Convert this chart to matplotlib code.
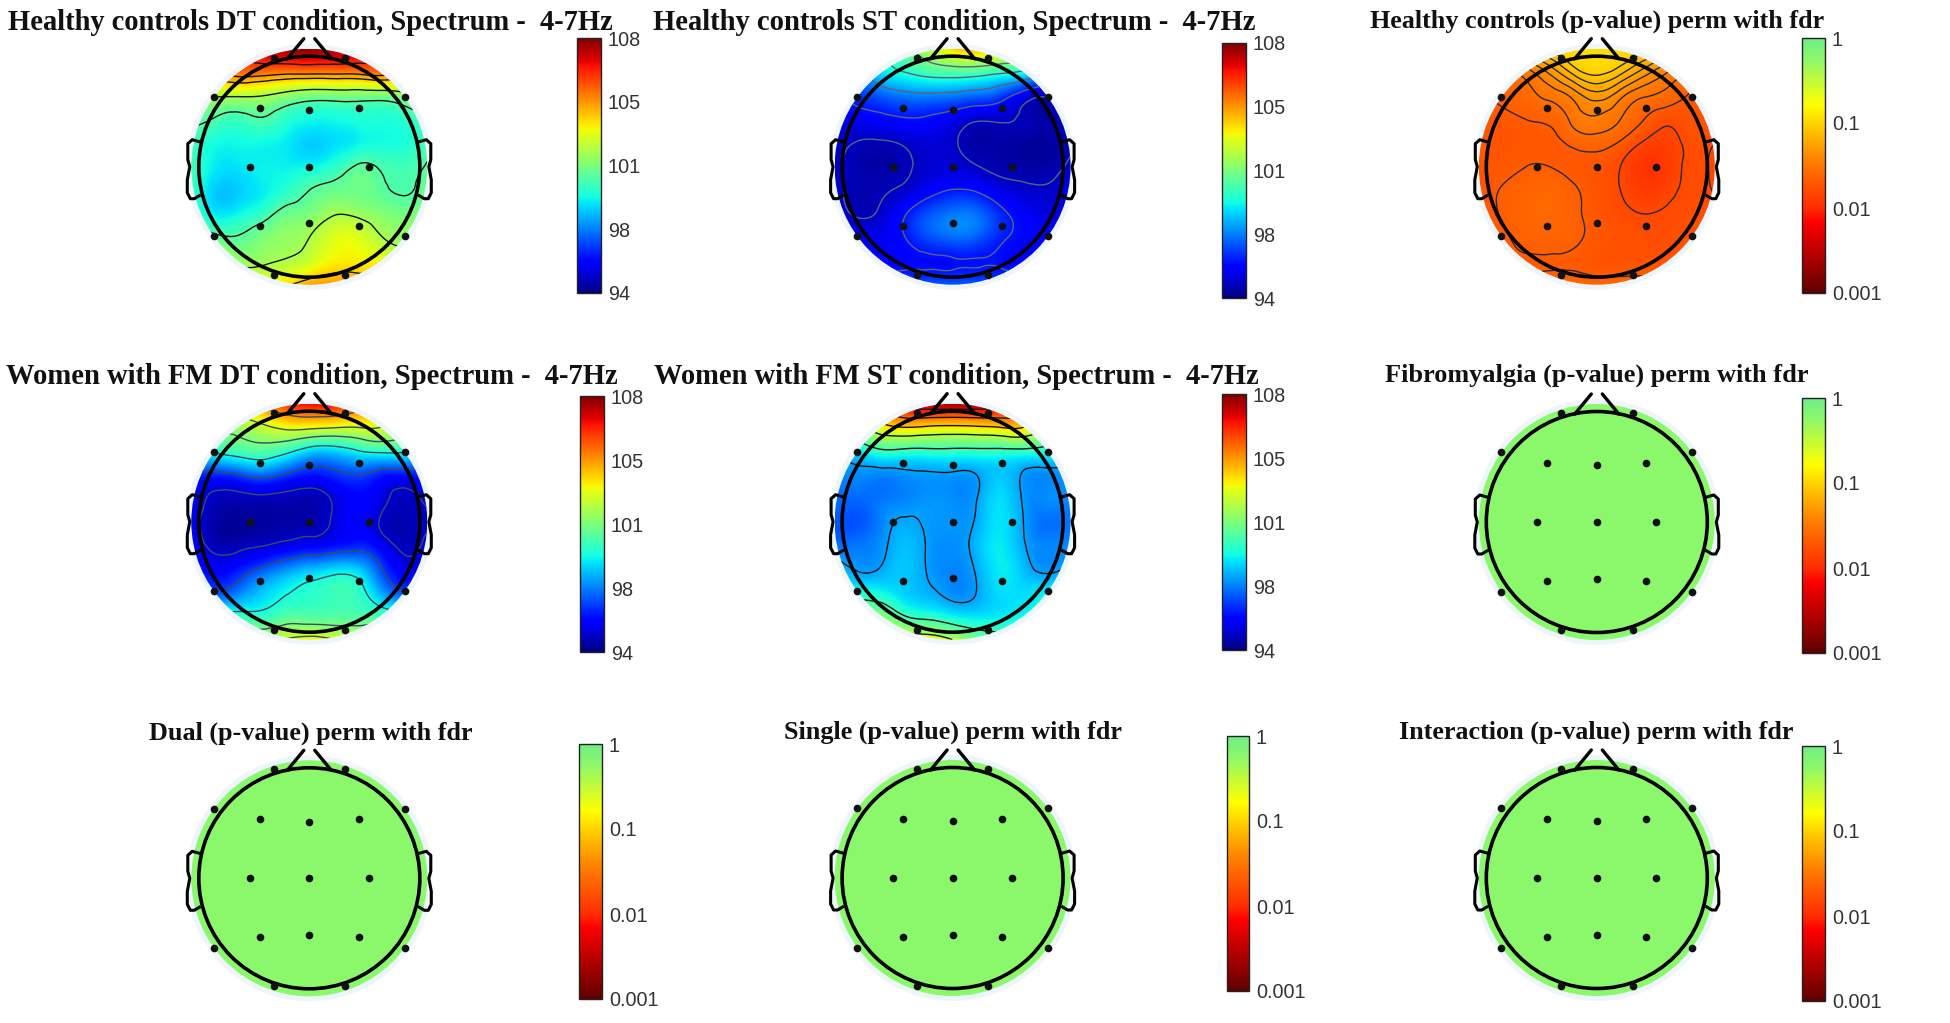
import numpy as np
import matplotlib
matplotlib.use("Agg")
import matplotlib.pyplot as plt
import matplotlib.tri as mtri
from matplotlib.cm import ScalarMappable
from matplotlib.colors import LinearSegmentedColormap, Normalize
from matplotlib.patches import Circle

W, H = 1950, 1023

titles = ["Healthy controls DT condition, Spectrum -  4-7Hz",
          "Healthy controls ST condition, Spectrum -  4-7Hz",
          "Healthy controls (p-value) perm with fdr",
          "Women with FM DT condition, Spectrum -  4-7Hz",
          "Women with FM ST condition, Spectrum -  4-7Hz",
          "Fibromyalgia (p-value) perm with fdr",
          "Dual (p-value) perm with fdr",
          "Single (p-value) perm with fdr",
          "Interaction (p-value) perm with fdr"]

power_ticks = [94, 97.5, 101, 104.5, 108]
power_labels = ["94", "98", "101", "105", "108"]
p_ticks = [-3, -2, -1, 0]
p_labels = ["0.001", "0.01", "0.1", "1"]

# electrodes, offset from head centre in pixels
elec_x = [-49.5, 0, 49.5, -59.5, 0, 59.5, -49.5, 0, 49.5, -95.5, 95.5, -95.5, 95.5, -35.8, 35.8, -35.8, 35.8]
elec_y = [-59, -56.7, -59, 0, 0, 0, 59, 56.7, 59, -69.7, -69.7, 69.7, 69.7, -109, -109, 108, 108]

# scalp values on an 11x11 grid, top row first
hc_dt = [
    [104, 105, 106, 107, 107.5, 107.8, 107.5, 107, 106, 105, 104],
    [104, 104.5, 105, 105, 104.8, 104.8, 104.8, 104.8, 105, 104.5, 104],
    [101.5, 101.9, 101.9, 101.8, 101.3, 100.9, 100.9, 100.9, 100.9, 101.3, 101.8],
    [100.5, 100.2, 99.9, 100.2, 99.6, 99.2, 99.2, 99.4, 99.4, 99.6, 100.2],
    [100, 99.3, 99.2, 99.2, 99.0, 98.6, 98.8, 99.1, 99.3, 99.4, 100],
    [100, 99.0, 98.9, 99.1, 99.1, 99.2, 99.6, 100.4, 100.2, 100.0, 100.4],
    [100, 98.6, 98.6, 99.0, 99.6, 100.3, 100.7, 100.8, 100.5, 100.2, 100.8],
    [100.5, 99.0, 99.2, 99.8, 100.7, 101.0, 101.7, 101.6, 101.2, 100.9, 101.2],
    [101.5, 100.6, 100.4, 101, 101.4, 101.8, 102.6, 102.7, 101.9, 101.5, 102],
    [103, 102.5, 101.5, 101.6, 101.9, 102.4, 103.1, 103.2, 103, 102.5, 103],
    [104, 103.8, 103.5, 103.2, 103.5, 104.3, 104.5, 104.5, 104.2, 104, 104]]
hc_st = [
    [97, 98, 99, 100.5, 102, 103.5, 104, 103.5, 102, 100, 98],
    [96, 97.2, 98.8, 99.5, 100, 100.2, 100.1, 99.7, 99.2, 97.5, 96],
    [95.5, 96.4, 97, 97.4, 97.5, 97.4, 97.1, 96.6, 95.4, 94.9, 95.3],
    [95.2, 95.5, 95.7, 95.9, 95.8, 95.4, 94.9, 94.9, 94.7, 94.5, 95],
    [95, 94.75, 94.7, 94.9, 95.1, 94.9, 94.5, 94.5, 94.4, 94.4, 94.7],
    [94.9, 94.6, 94.5, 94.7, 95, 95.1, 94.85, 94.6, 94.5, 94.5, 95],
    [95, 94.6, 94.7, 95, 95.6, 96.05, 95.9, 95.3, 95, 94.9, 95.3],
    [95.2, 94.7, 95, 95.95, 96.9, 97.4, 97.3, 96.3, 95.6, 95.2, 95.4],
    [95.6, 95.4, 95.4, 96, 96.8, 97.2, 97, 96.2, 95.8, 95.5, 95.7],
    [96, 95.7, 95.7, 95.8, 95.85, 95.9, 95.95, 95.9, 95.7, 95.6, 95.8],
    [96.5, 96.5, 96.5, 96.7, 97, 97, 97, 96.7, 96.5, 96.3, 96.2]]
fm_dt = [
    [102, 103, 104, 105, 106, 106.5, 106.5, 105.5, 104, 103, 102],
    [100.5, 101, 101.5, 102.2, 102.8, 102.8, 102.6, 102.5, 102.5, 101.5, 100.5],
    [98.8, 99.5, 100, 100.3, 99.7, 98.7, 98.6, 99.2, 99.6, 99.5, 98.8],
    [96.5, 96.3, 96.7, 97.2, 96.6, 96.0, 96.3, 96.7, 96.2, 96.0, 96.5],
    [95.6, 94.8, 94.7, 94.8, 94.7, 94.6, 95.1, 95.7, 95.3, 94.8, 95.2],
    [95.3, 94.5, 94.3, 94.4, 94.5, 94.6, 95.1, 95.6, 94.95, 94.6, 94.9],
    [95.8, 94.7, 94.7, 94.95, 95.3, 95.6, 95.9, 96.2, 95.6, 94.8, 95.2],
    [96.3, 95.6, 96, 96.9, 97.7, 98.3, 98.7, 98.6, 96.9, 95.4, 95.4],
    [98, 96.9, 97.5, 98.5, 99.2, 99.6, 99.9, 99.8, 98.2, 96.9, 97.2],
    [101, 100, 99.8, 99.7, 100.3, 100.3, 100.3, 100.3, 100.2, 100, 100.5],
    [103, 103, 102.5, 102.4, 102.6, 103, 102.6, 102.5, 102.5, 102.5, 103]]
fm_st = [
    [104, 105, 106, 107, 107.5, 107.5, 107.5, 107, 106, 105, 104],
    [101, 102, 103, 103.5, 103.3, 103.2, 103.3, 103.5, 103.5, 102, 101],
    [98.5, 99, 99.8, 99.7, 99.7, 99.7, 99.7, 99.7, 99.7, 99.5, 99],
    [97.5, 97.7, 97.6, 97.8, 97.9, 97.9, 98.0, 98.5, 97.9, 97.7, 97.8],
    [97.3, 97.2, 97.4, 97.6, 97.8, 97.7, 97.95, 98.8, 97.9, 97.7, 97.6],
    [97, 96.9, 97.6, 98.1, 97.9, 97.8, 98.1, 98.9, 98, 97.3, 97.3],
    [97.3, 97.4, 97.8, 98.4, 97.9, 97.7, 98.3, 99, 98.1, 97.6, 97.6],
    [98.6, 97.9, 98.1, 98.5, 97.9, 97.6, 98.1, 99, 98.4, 97.8, 98.2],
    [99.5, 99.4, 99.2, 98.6, 98.2, 97.7, 98, 98.8, 98.8, 99.1, 99.3],
    [102, 101.5, 101.2, 100, 99.6, 99.1, 98.9, 99, 99.2, 99.5, 100],
    [104, 104, 103.5, 103, 102.8, 102, 101, 100.6, 100.6, 100.5, 100.5]]
# log10(p)
hc_p = [
    [-1.4, -1.4, -1.2, -1.0, -0.95, -0.95, -0.95, -1.0, -1.2, -1.4, -1.5],
    [-1.6, -1.6, -1.5, -1.33, -1.12, -1.02, -1.12, -1.3, -1.45, -1.55, -1.6],
    [-1.7, -1.65, -1.6, -1.52, -1.42, -1.3, -1.42, -1.54, -1.6, -1.7, -1.75],
    [-1.72, -1.72, -1.68, -1.65, -1.52, -1.47, -1.55, -1.68, -1.78, -1.75, -1.75],
    [-1.7, -1.74, -1.72, -1.72, -1.65, -1.62, -1.7, -1.84, -1.88, -1.78, -1.82],
    [-1.72, -1.72, -1.68, -1.68, -1.72, -1.74, -1.82, -1.95, -1.9, -1.79, -1.85],
    [-1.75, -1.67, -1.63, -1.6, -1.66, -1.74, -1.82, -1.9, -1.86, -1.79, -1.83],
    [-1.74, -1.67, -1.62, -1.6, -1.65, -1.73, -1.79, -1.82, -1.8, -1.78, -1.78],
    [-1.72, -1.7, -1.64, -1.63, -1.65, -1.72, -1.76, -1.78, -1.78, -1.76, -1.75],
    [-1.7, -1.7, -1.69, -1.69, -1.7, -1.74, -1.75, -1.75, -1.73, -1.7, -1.7],
    [-1.62, -1.62, -1.62, -1.62, -1.6, -1.62, -1.62, -1.62, -1.6, -1.58, -1.58]]
flat_p = -0.24  # nothing significant, whole scalp same colour

hc_dt_levels = [100.3, 101.8, 103.7, 104.5, 106]
hc_st_levels = [94.8, 96, 97.8, 99.5, 101]
hc_p_levels = [-1.82, -1.68, -1.55, -1.45, -1.35, -1.25, -1.15, -1.05]
fm_dt_levels = [95, 96.7, 99.3, 101, 102.5, 104.5]
fm_st_levels = [98, 100, 102, 103.5, 105, 106.5]

# layout, all in reference pixels
centres = [(309.3, 166.7), (952.6, 166.7), (1596.8, 166.7),
           (309.3, 521.7), (952.6, 521.7), (1596.8, 522),
           (309.3, 878.3), (952.6, 878), (1596.8, 878)]
bars = [(577, 601, 38, 293), (1222, 1246, 43, 298), (1802, 1825, 38, 293),
        (580, 604, 396, 652), (1222, 1246, 394, 650), (1802, 1825, 398, 653),
        (579, 602, 744, 999), (1227, 1249, 736, 991), (1802, 1825, 746, 1001)]
title_box = [(6, 614, 22), (652, 1257, 22), (1369, 1826, 21),
             (4, 619, 377), (652, 1260, 377), (1385, 1809, 375),
             (148, 473, 733), (783, 1123, 732), (1398, 1795, 732)]

p_cmap = LinearSegmentedColormap.from_list("pval", [
    (0.0, "#600000"), (0.28, "#ff0000"), (0.33, "#ff2c00"), (0.52, "#ff8000"),
    (0.65, "#ffc800"), (0.74, "#ffff00"), (0.92, "#8cf86c"), (1.0, "#70ee84")])

grid = np.linspace(-118, 118, 11)
gx, gy = np.meshgrid(grid, grid)
tri = mtri.Triangulation(gx.ravel(), gy.ravel())
fine = np.linspace(-117.9, 117.9, 300)
fx, fy = np.meshgrid(fine, fine)

fig = plt.figure(figsize=(W / 100, H / 100), dpi=100)
plt.rcParams['font.family'] = ['Liberation Sans']


def px_axes(x0, x1, y0, y1):
    return fig.add_axes([x0 / W, 1 - y1 / H, (x1 - x0) / W, (y1 - y0) / H])


ear_x = [110, 117, 121.5, 121.5, 119.5, 122, 122, 119, 115, 110]
ear_y = [-25, -27, -23, -7, 0, 13, 26, 32, 32, 29]
nose_x = [-22, -5.5, None, 5.5, 22]
nose_y = [-108, -128, None, -128, -108]


def head(ax, values, cmap, norm, levels, line_col):
    ax.add_patch(Circle((0, 0), 123, fc="#eef6fb", ec="none", zorder=0))
    if values is None:
        ax.add_patch(Circle((0, 0), 118, fc=cmap(norm(flat_p)), ec="none", zorder=1))
    else:
        z = np.array(values, dtype=float).ravel()
        zf = mtri.CubicTriInterpolator(tri, z, kind="min_E")(fx, fy)
        clip = Circle((0, 0), 118, transform=ax.transData)
        im = ax.imshow(zf, cmap=cmap, norm=norm, extent=(-118, 118, 118, -118),
                       interpolation="bilinear", zorder=1)
        im.set_clip_path(clip)
        cs = ax.contour(fx, fy, zf, levels=levels, colors=line_col, linewidths=1.0,
                        linestyles="solid", zorder=2)
        cs.set_clip_path(clip)
    ax.add_patch(Circle((0, 0), 110.5, fc="none", ec="black", lw=2.6, zorder=3))
    ax.plot(nose_x, nose_y, color="black", lw=2.4, zorder=3, solid_capstyle="round")
    ax.plot(ear_x, ear_y, color="black", lw=2.2, zorder=3)
    ax.plot([-v for v in ear_x], ear_y, color="black", lw=2.2, zorder=3)
    ax.plot(elec_x, elec_y, "o", color="#111111", ms=5.5, mew=0, zorder=4)
    ax.set_xlim(-135, 135)
    ax.set_ylim(135, -135)
    ax.set_aspect("equal")
    ax.axis("off")


power_norm = Normalize(94, 108)
p_norm = Normalize(-3, 0)
fields = [hc_dt, hc_st, hc_p, fm_dt, fm_st, None, None, None, None]
levels_all = [hc_dt_levels, hc_st_levels, hc_p_levels, fm_dt_levels, fm_st_levels, None, None, None, None]
line_cols = ["#151515", "#56647c", "#2a2a2a", "#3c4a66", "#151515", None, None, None, None]

renderer = fig.canvas.get_renderer()
for i in range(9):
    cx, cy = centres[i]
    ax = px_axes(cx - 135, cx + 135, cy - 135, cy + 135)
    is_power = i in (0, 1, 3, 4)
    cmap = matplotlib.colormaps["jet"] if is_power else p_cmap
    norm = power_norm if is_power else p_norm
    head(ax, fields[i], cmap, norm, levels_all[i], line_cols[i])

    x0, x1, y0, y1 = bars[i]
    cax = px_axes(x0, x1, y0, y1)
    cb = fig.colorbar(ScalarMappable(norm=norm, cmap=cmap), cax=cax)
    cb.set_ticks(power_ticks if is_power else p_ticks)
    cb.set_ticklabels(power_labels if is_power else p_labels)
    cb.ax.tick_params(length=0, pad=5, labelsize=14.3, labelcolor="#333333")
    cb.outline.set_linewidth(1.0)
    cb.outline.set_edgecolor("#222222")

    # scale the title so it fills the same width as in the reference
    tx0, tx1, ty = title_box[i]
    t = fig.text((tx0 + tx1) / 2 / W, 1 - ty / H, titles[i], ha="center", va="center",
                 family="Liberation Serif", weight="bold", fontsize=16, color="#111111")
    t.set_fontsize(16 * (tx1 - tx0) / t.get_window_extent(renderer).width)

fig.savefig("out.png", dpi=100, facecolor="white")
